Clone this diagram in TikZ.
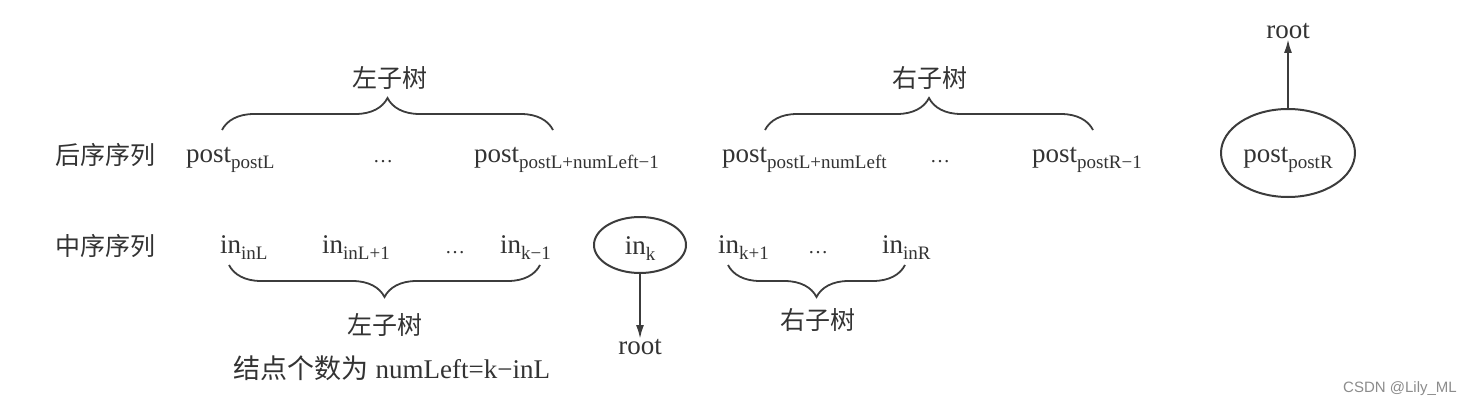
\documentclass[tikz,border=0pt]{standalone}
\usepackage{fontspec}
\setmainfont{Liberation Serif}
\newfontfamily\cjk{Noto Sans CJK SC}
\newfontfamily\wmfont{Liberation Sans}
\usetikzlibrary{shapes.geometric,decorations.pathreplacing,arrows.meta}
\definecolor{ink}{HTML}{333333}
\definecolor{lineink}{HTML}{3c3c3c}
\newcommand\subt[2]{#1\raisebox{-6pt}{\fontsize{19}{19}\selectfont #2}}
\begin{document}
\begin{tikzpicture}[x=1pt,y=-1pt,
  txt/.style={inner sep=0pt,anchor=base west,font=\fontsize{27}{27}\selectfont,text=ink},
  dots/.style={inner sep=0pt,anchor=base,font=\fontsize{20}{20}\selectfont,text=ink},
  cjklabel/.style={inner sep=0pt,font=\cjk\fontsize{25}{25}\selectfont,text=ink},
  mixed/.style={inner sep=0pt,font=\fontsize{27}{27}\selectfont,text=ink},
  rootnode/.style={txt,anchor=center},
  oval/.style={ellipse,draw=lineink,line width=2pt,inner sep=0pt,text height=20pt,text depth=2pt,font=\fontsize{27}{27}\selectfont,text=ink},
  bracepath/.style={draw=lineink,line width=1.8pt,decorate,decoration={brace,amplitude=32pt,aspect=0.5}},
  arr/.style={draw=lineink,line width=2.2pt,-{Latex[length=14pt,width=8pt]}},
  wmark/.style={inner sep=0pt,font=\wmfont\fontsize{15}{15}\selectfont,text=black!45}
]
\useasboundingbox[fill=white] (0,0) rectangle (1460,412);

% row labels
\node[cjklabel] (seqpost) at (105,155) {后序序列};
\node[cjklabel] (seqin) at (105,246) {中序序列};

% postorder row
\node[txt] (p1) at (186,162) {\subt{post}{postL}};
\node[dots] (d1) at (383,162) {…};
\node[txt] (p2) at (474,162) {\subt{post}{postL+numLeft−1}};
\node[txt] (p3) at (722,162) {\subt{post}{postL+numLeft}};
\node[dots] (d2) at (940,162) {…};
\node[txt] (p4) at (1032,162) {\subt{post}{postR−1}};
\node[oval,minimum width=134pt,minimum height=88pt] (ep) at (1288,153) {\subt{post}{postR}};
\node[rootnode] (root1) at (1288,31) {root};
\draw[arr] (ep.north) -- (root1.south);

% top braces
\coordinate (b1a) at (222,130);
\coordinate (b1b) at (553,130);
\coordinate (b2a) at (765,130);
\coordinate (b2b) at (1093,130);
\draw[bracepath] (b1a) -- (b1b);
\draw[bracepath] (b2a) -- (b2b);
\node[cjklabel] (lt1) at (390,78) {左子树};
\node[cjklabel] (rt1) at (930,78) {右子树};

% inorder row
\node[txt] (i1) at (220,253) {\subt{in}{inL}};
\node[txt] (i2) at (322,253) {\subt{in}{inL+1}};
\node[dots] (d3) at (455,253) {…};
\node[txt] (i3) at (500,253) {\subt{in}{k−1}};
\node[oval,minimum width=92pt,minimum height=56pt] (ek) at (640,245) {\subt{in}{k}};
\node[rootnode] (root2) at (640,347) {root};
\draw[arr] (ek.south) -- (root2.north);
\node[txt] (i4) at (718,253) {\subt{in}{k+1}};
\node[dots] (d4) at (818,253) {…};
\node[txt] (i5) at (882,253) {\subt{in}{inR}};

% bottom braces
\coordinate (b3a) at (229,265);
\coordinate (b3b) at (540,265);
\coordinate (b4a) at (728,265);
\coordinate (b4b) at (905,265);
\draw[bracepath] (b3b) -- (b3a);
\draw[bracepath] (b4b) -- (b4a);
\node[cjklabel] (lt2) at (385,325) {左子树};
\node[cjklabel] (rt2) at (818,320) {右子树};
\node[mixed] (cnt) at (392,368) {{\cjk 结点个数为} numLeft=k−inL};

% watermark
\node[wmark] (wm) at (1400,389) {CSDN @Lily\_ML};
\end{tikzpicture}
\end{document}
